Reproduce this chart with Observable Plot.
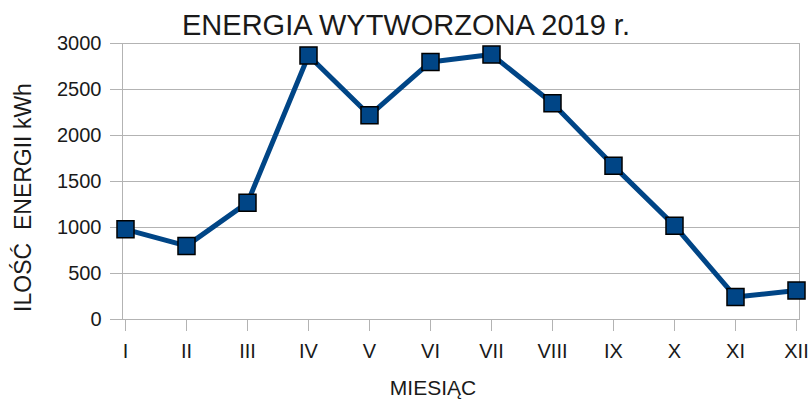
<!DOCTYPE html>
<html>
<head>
<meta charset="utf-8">
<script src="https://cdn.jsdelivr.net/npm/d3@7"></script>
<script src="https://cdn.jsdelivr.net/npm/@observablehq/plot@0.6"></script>
<style>
  html, body { margin: 0; padding: 0; background: #fff; }
  #wrap { width: 812px; height: 401px; overflow: hidden; font-family: "Liberation Sans", Arial, sans-serif; }
  #title { box-sizing: border-box; height: 40px; padding-top: 9px; width: 812px;
           text-align: center; font-size: 29px; line-height: normal; color: #1a1a1a; white-space: nowrap; }
  svg text { white-space: pre; }
</style>
</head>
<body>
<div id="wrap">
  <div id="title"></div>
  <div id="chart"></div>
</div>
<script>
const titleText = "ENERGIA WYTWORZONA 2019 r.";
const months = ["I", "II", "III", "IV", "V", "VI", "VII", "VIII", "IX", "X", "XI", "XII"];
const energy = [980, 800, 1270, 2870, 2220, 2800, 2880, 2350, 1670, 1020, 245, 315];
const yTicks = [0, 500, 1000, 1500, 2000, 2500, 3000];
const xLabel = "MIESIĄC";
const yLabel = "ILOŚĆ  ENERGII kWh";

const data = months.map((m, i) => ({month: m, value: energy[i]}));
const grid = "#b3b3b3";
const blue = "#004586";
const ink = "#1a1a1a";

const chart = Plot.plot({
  width: 812,
  height: 361,
  marginLeft: 122,
  marginRight: 13,
  marginTop: 3,
  marginBottom: 82,
  style: {fontFamily: "'Liberation Sans', Arial, sans-serif", fontSize: "20px", color: ink, background: "white", overflow: "visible"},
  x: {type: "point", domain: months, padding: 0},
  y: {domain: [0, 3000], ticks: yTicks},
  marks: [
    Plot.gridY(yTicks, {stroke: grid, strokeOpacity: 1}),
    Plot.frame({stroke: grid}),
    Plot.axisY(yTicks, {tickSize: 12, tickPadding: 9, stroke: grid, fill: ink, label: null, tickFormat: d => String(d)}),
    Plot.axisX(months, {tickSize: 12, tickPadding: 12, stroke: grid, fill: ink, label: null}),
    Plot.line(data, {x: "month", y: "value", stroke: blue, strokeWidth: 5, strokeLinejoin: "round"}),
    Plot.dot(data, {x: "month", y: "value", symbol: "square", r: 9.6, fill: blue, stroke: "#000", strokeWidth: 1.5}),
    Plot.text([xLabel], {frameAnchor: "bottom", dx: -28, dy: 61, lineAnchor: "top", fontSize: 21, fill: ink}),
    Plot.text([yLabel], {frameAnchor: "left", dx: -99, dy: 16, rotate: -90, lineAnchor: "middle", textAnchor: "middle", fontSize: 23, fill: ink})
  ]
});
document.getElementById("chart").appendChild(chart);
document.getElementById("title").textContent = titleText;
</script>
</body>
</html>
